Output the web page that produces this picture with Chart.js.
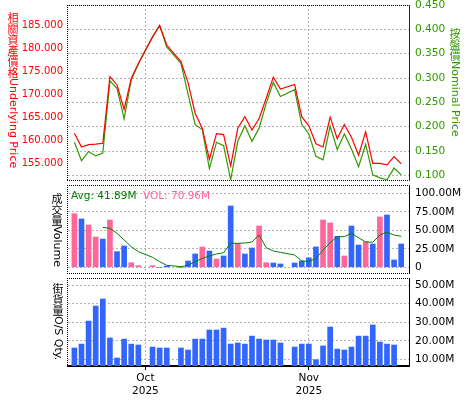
<!DOCTYPE html>
<html lang="zh-HK">
<head>
<meta charset="UTF-8" />
<title>Warrant chart</title>
<script src="https://cdn.jsdelivr.net/npm/chart.js"></script>
<style>
  body { margin: 0; background: #fff; }
  #wrap { position: relative; width: 475px; height: 400px; font-family: "DejaVu Sans", "Noto Sans CJK TC", sans-serif; }
  canvas { position: absolute; left: 0; }
  .vt { position: absolute; width: 12px; display: flex; flex-direction: column; align-items: center; font-size: 11px; }
  .vt .cj { font-family: "Noto Sans CJK TC", sans-serif; line-height: 11px; text-align: center; width: 12px; }
  .vt .lat { writing-mode: vertical-rl; line-height: 12px; white-space: nowrap; }
  .lg { position: absolute; font-size: 10.5px; line-height: 12px; white-space: nowrap; }
</style>
</head>
<body>
<div id="wrap">
  <canvas id="c_preco" width="475" height="183" style="top:0"></canvas>
  <canvas id="c_vol" width="475" height="92" style="top:183px"></canvas>
  <canvas id="c_qty" width="475" height="124" style="top:276px"></canvas>
  <div class="vt" style="left:7px;top:12px;color:#ff0000"><div class="cj">相<br>關<br>資<br>產<br>價<br>格</div><div class="lat">Underlying Price</div></div>
  <div class="vt" style="left:449px;top:28px;color:#339900"><div class="cj">按<br>盤<br>價</div><div class="lat">Nominal Price</div></div>
  <div class="vt" style="left:51px;top:193px;color:#000"><div class="cj">成<br>交<br>量</div><div class="lat">Volume</div></div>
  <div class="vt" style="left:52px;top:283px;color:#000"><div class="cj">街<br>貨<br>量</div><div class="lat">O/S Qty.</div></div>
  <div class="lg" style="left:71px;top:189px;color:#008000">Avg: 41.89M</div>
  <div class="lg" style="left:143px;top:189px;color:#ff6699">VOL: 70.96M</div>
</div>

<script>
  // dias de negociacao (feriados ficam como buraco no eixo)
  const datas = [
    '2025-09-17','2025-09-18','2025-09-19','2025-09-22','2025-09-23','2025-09-24','2025-09-25','2025-09-26','2025-09-29','2025-09-30',
    '2025-10-02','2025-10-03','2025-10-06',
    '2025-10-08','2025-10-09','2025-10-10','2025-10-13','2025-10-14','2025-10-15','2025-10-16','2025-10-17','2025-10-20','2025-10-21','2025-10-22','2025-10-23','2025-10-24','2025-10-27','2025-10-28',
    '2025-10-30','2025-10-31','2025-11-03','2025-11-04','2025-11-05','2025-11-06','2025-11-07','2025-11-10','2025-11-11','2025-11-12','2025-11-13','2025-11-14','2025-11-17','2025-11-18','2025-11-19','2025-11-20'
  ];

  const underlying = [
    161.5,158.5,159.0,159.1,159.3,173.8,172.0,166.7,173.4,176.7,
    182.5,185.0,180.7,
    177.1,172.5,165.8,162.6,155.8,161.4,161.2,154.4,162.6,165.1,162.2,164.7,169.1,173.7,171.1,
    172.1,165.1,163.1,159.2,158.5,165.0,160.3,163.4,160.6,156.7,161.8,154.9,154.9,154.6,156.4,154.8
  ];

  const nominal = [
    0.168,0.130,0.149,0.140,0.146,0.294,0.279,0.216,0.296,0.329,
    0.384,0.407,0.364,
    0.330,0.267,0.204,0.194,0.114,0.168,0.161,0.091,0.170,0.202,0.170,0.197,0.248,0.291,0.262,
    0.276,0.205,0.185,0.139,0.132,0.201,0.153,0.185,0.154,0.118,0.164,0.101,0.095,0.091,0.115,0.101
  ];

  // volume em milhoes
  const volume = [
    72.4,65.3,57.2,40.9,38.2,63.9,21.1,28.8,6.2,2.2,
    2.2,0,1.6,
    0,8.5,18.0,27.4,22.0,11.2,15.3,82.8,32.4,18.0,26.1,55.8,6.2,5.8,4.5,
    5.8,8.5,12.8,27.6,63.9,59.9,41.9,15.3,55.8,30.1,34.6,31.5,68.0,70.7,9.9,31.5
  ];

  // 1 = rosa, 0 = azul
  const volRosa = [
    1,0,1,1,0,1,0,0,1,1,
    1,0,0,
    0,0,0,1,0,1,0,0,1,0,0,1,1,0,0,
    0,0,0,0,1,1,0,1,0,0,1,0,1,0,0,0
  ];

  const volMedia = [
    null,null,null,null,54.0,52.7,45.9,36.9,27.9,21.1,
    13.5,7.6,2.7,
    0.9,2.7,7.6,12.1,15.3,18.0,19.7,32.4,32.4,32.8,34.2,43.6,26.5,22.0,20.2,
    16.6,8.5,8.1,11.6,23.4,33.2,41.4,41.4,45.9,40.0,34.2,33.9,43.6,47.3,43.6,41.9
  ];

  // 街貨量 em milhoes
  const osQty = [
    16.1,18.2,30.6,38.7,42.5,21.5,10.7,20.9,18.2,17.7,
    16.6,16.1,16.1,
    16.1,15.0,20.9,20.9,25.8,25.8,26.8,18.2,18.8,18.2,22.5,20.9,20.4,20.4,18.8,
    16.6,18.2,18.2,9.8,17.2,27.4,15.5,15.0,16.6,22.5,22.5,28.5,19.3,18.2,17.7,null
  ];

  const priceTicks = [155, 160, 165, 170, 175, 180, 185];
  const nominalTicks = [0.10, 0.15, 0.20, 0.25, 0.30, 0.35, 0.40, 0.45];
  const volTicks = [0, 25, 50, 75, 100];
  const qtyTicks = [10, 20, 30, 40, 50];
  const monthDates = ['2025-10-01', '2025-11-03'];
  const monthLabels = [['Oct', '2025'], ['Nov', '2025']];

  Chart.defaults.font.family = '"DejaVu Sans", "Noto Sans CJK TC", sans-serif';

  // posicao no eixo = numero de dias uteis desde o primeiro dia
  function slotOf(s) {
    const p = s.split('-').map(Number);
    const fim = Date.UTC(p[0], p[1] - 1, p[2]);
    let t = Date.UTC(2025, 8, 17), n = 0;
    while (t < fim) {
      const wd = new Date(t).getUTCDay();
      if (wd !== 0 && wd !== 6) n++;
      t += 86400000;
    }
    return n;
  }

  function pontos(arr) {
    return datas.map((d, i) => ({ x: slotOf(d), y: arr[i] }));
  }

  const GRID = '#b4b4b4';

  function eixoX(mostra) {
    return {
      type: 'linear', min: -0.9, max: 47.1, offset: false,
      afterBuildTicks: s => { s.ticks = monthDates.map(d => ({ value: slotOf(d) })); },
      afterFit: s => { s.height = mostra ? 34 : 0; s.paddingLeft = 0; s.paddingRight = 0; },
      ticks: {
        display: mostra, color: '#000', font: { size: 10.5 }, padding: 2,
        maxRotation: 0, autoSkip: false, callback: (v, i) => monthLabels[i]
      },
      grid: { offset: false, color: GRID, drawTicks: mostra, tickLength: 4, tickColor: '#000', tickBorderDash: [] },
      border: { display: mostra, color: '#000', width: 2, dash: [2, 2] }
    };
  }

  function eixoY(pos, min, max, lista, largura, cor, tam, pad, fmt, grade) {
    return {
      position: pos, min: min, max: max,
      afterBuildTicks: s => { s.ticks = lista.map(v => ({ value: v })); },
      afterFit: s => { s.width = largura; s.paddingTop = 0; s.paddingBottom = 0; },
      ticks: { color: cor, font: { size: tam }, padding: pad, callback: fmt },
      grid: { display: grade, color: GRID, drawTicks: false },
      border: { display: false, dash: [2, 2] }
    };
  }

  // moldura pontilhada em volta da area de cada painel
  const moldura = {
    id: 'moldura',
    afterDatasetsDraw(chart, args, o) {
      const { ctx, chartArea: a } = chart;
      ctx.save();
      ctx.lineWidth = 1;
      ctx.strokeStyle = '#000';
      ctx.setLineDash([1, 1]);
      ctx.beginPath();
      ctx.moveTo(a.left - 1, a.top + 0.5); ctx.lineTo(a.right + 1, a.top + 0.5);
      if (!o.semBase) { ctx.moveTo(a.left - 1, a.bottom + 0.5); ctx.lineTo(a.right + 1, a.bottom + 0.5); }
      ctx.moveTo(a.left - 0.5, a.top); ctx.lineTo(a.left - 0.5, a.bottom + 1);
      ctx.stroke();
      ctx.setLineDash([]);
      ctx.strokeStyle = o.corDireita || '#000';
      ctx.beginPath();
      ctx.moveTo(a.right + 0.5, a.top); ctx.lineTo(a.right + 0.5, a.bottom + 1);
      ctx.stroke();
      ctx.restore();
    }
  };

  const comum = {
    responsive: false, animation: false, events: [],
    plugins: { legend: { display: false }, tooltip: { enabled: false } }
  };

  new Chart(document.getElementById('c_preco'), {
    type: 'line',
    data: {
      datasets: [
        { data: pontos(underlying), yAxisID: 'yL', borderColor: '#ff0000', borderWidth: 1.2, pointRadius: 0, tension: 0 },
        { data: pontos(nominal), yAxisID: 'yR', borderColor: '#339900', borderWidth: 1.2, pointRadius: 0, tension: 0 }
      ]
    },
    options: Object.assign({}, comum, {
      layout: { padding: { top: 5, bottom: 3, left: 0, right: 0 } },
      scales: {
        x: eixoX(false),
        yL: eixoY('left', 151.3, 189.42, priceTicks, 68, '#ff0000', 10, 5, v => v.toFixed(3), false),
        yR: eixoY('right', 0.0905, 0.45, nominalTicks, 66, '#339900', 10.6, 6, v => v.toFixed(3), true)
      },
      plugins: Object.assign({}, comum.plugins, { moldura: { corDireita: '#1a3300' } })
    }),
    plugins: [moldura]
  });

  new Chart(document.getElementById('c_vol'), {
    type: 'bar',
    data: {
      datasets: [
        { type: 'line', data: pontos(volMedia), borderColor: '#008000', borderWidth: 1, pointRadius: 0, tension: 0 },
        { type: 'bar', data: pontos(volume), barThickness: 5,
          backgroundColor: volRosa.map(r => r ? '#ff6699' : '#3366ff') }
      ]
    },
    options: Object.assign({}, comum, {
      layout: { padding: { top: 2, bottom: 2, left: 68, right: 0 } },
      scales: {
        x: eixoX(false),
        y: eixoY('right', -7.7, 111.2, volTicks, 66, '#000', 10.6, 6,
          v => v === 0 ? '0' : v.toFixed(2) + 'M', true)
      }
    }),
    plugins: [moldura]
  });

  new Chart(document.getElementById('c_qty'), {
    type: 'bar',
    data: {
      datasets: [
        { data: pontos(osQty), barThickness: 5, backgroundColor: '#3366ff' }
      ]
    },
    options: Object.assign({}, comum, {
      layout: { padding: { top: 2, bottom: 0, left: 68, right: 0 } },
      scales: {
        x: eixoX(true),
        y: eixoY('right', 6.4, 53.8, qtyTicks, 66, '#000', 10.6, 6, v => v.toFixed(2) + 'M', true)
      },
      plugins: Object.assign({}, comum.plugins, { moldura: { semBase: true } })
    }),
    plugins: [moldura]
  });
</script>
</body>
</html>
